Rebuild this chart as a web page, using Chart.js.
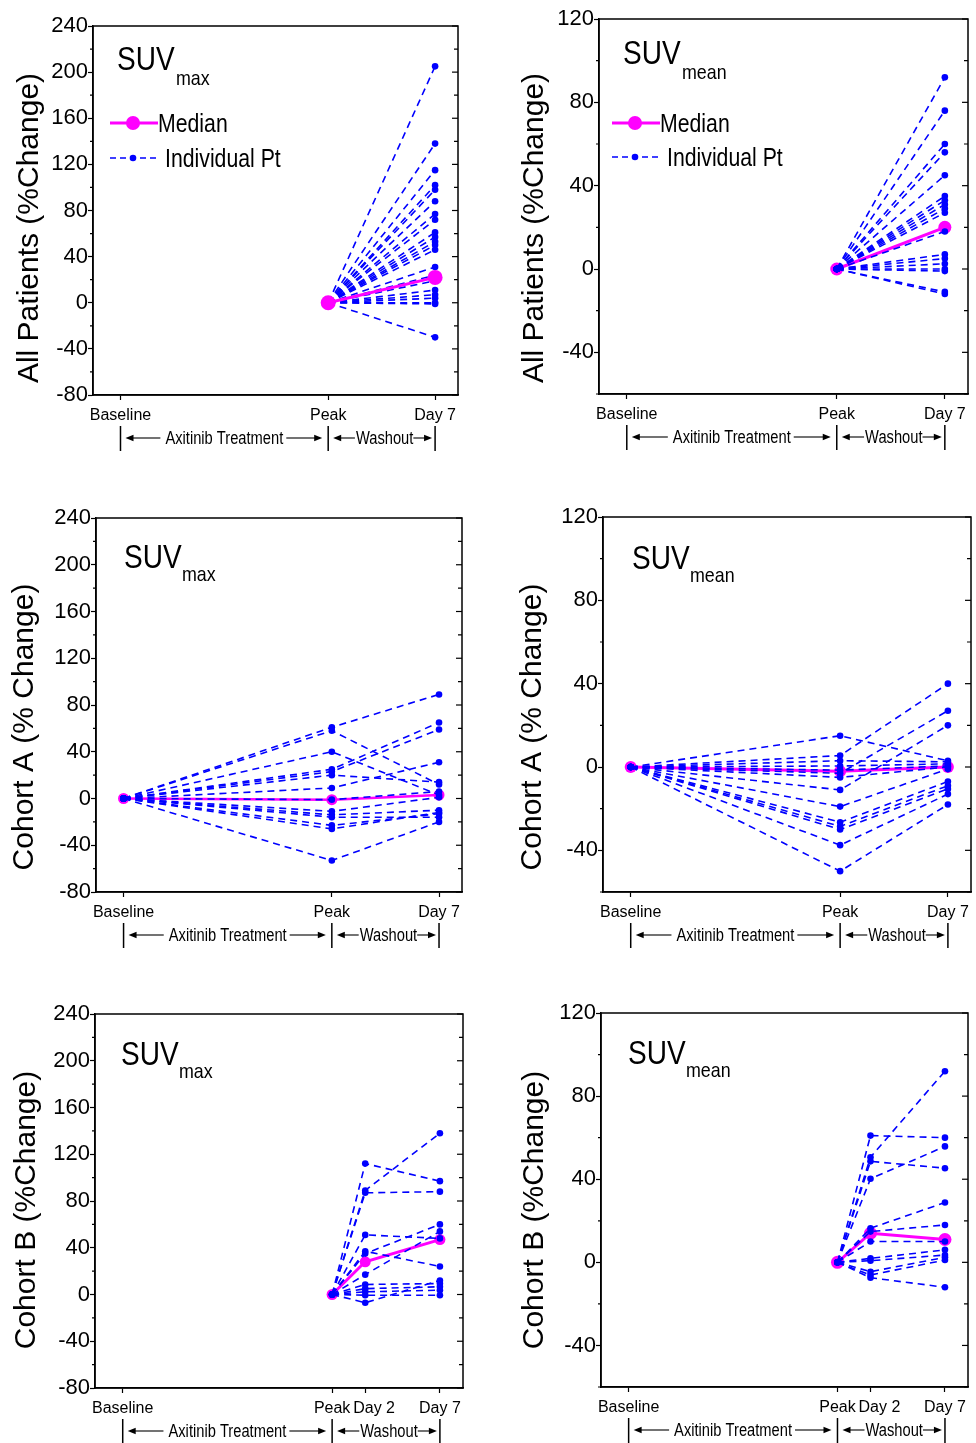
<!DOCTYPE html>
<html><head><meta charset="utf-8">
<script src="https://cdn.jsdelivr.net/npm/chart.js@4"></script>
<style>
html,body{margin:0;padding:0;background:#fff;}
#wrap{position:relative;width:976px;height:1443px;overflow:hidden;background:#fff;}
canvas{position:absolute;}
</style></head><body><div id="wrap"></div>
<script>
// ---------- data ----------
const xLabels = ['Baseline', 'Peak', 'Day 2', 'Day 7'];
const xValues = [-13.6, 0, 2.15, 7];
const reference = 0; // % change at the reference time point

// All patients (reference = Peak)
const allMaxDay7 = [205, 138, 115, 102, 98, 88, 77, 72, 61, 57, 53, 50, 46, 31, 24, 19, 11, 7, 4, 0, -1, -30];
const allMaxMedian = [0, 22];
const allMeanDay7 = [92, 76, 60, 56, 45, 35, 33, 31, 29, 27, 18, 7, 5, 2.5, 0, -1, -11, -12];
const allMeanMedian = [0, 20];

// Cohort A (reference = Baseline)
const aMaxPeak = [61, 58, 40, 25, 23, 20, 9, -1, -11, -14, -16, -23, -26, -53];
const aMaxDay7 = [89, 12, 3, 65, 59, 14, 31, 6, 1, -10, -16, -13, -12, -20];
const aMaxMedian = [0, -1, 3];
const aMeanPeak = [15, 5.5, 3, 0.5, -1.5, -3, -5, -11, -19, -26.5, -28.5, -30, -37.5, -50];
const aMeanDay7 = [3, 40, 2.5, 1.5, 0.5, 27, 0, 20, -1, -7, -9, -10.5, -13, -18];
const aMeanMedian = [0, -2, 0];

// Cohort B (reference = Peak)
const bMaxDay2 = [112, 89, 87, 51, 37, 35, 17, 8.6, 5, 2.3, -0.6, -7];
const bMaxDay7 = [97, 138, 88, 48, 24, 60, 54, 9.4, 6.6, 3.7, -0.6, 12];
const bMaxMedian = [0, 28, 47];
const bMeanDay2 = [61, 50.6, 48.6, 40.2, 16.4, 14.8, 10, 1.9, 0.8, -4.5, -6.1, -7.4];
const bMeanDay7 = [60, 92, 45.3, 55.8, 28.8, 18, 10, 6, 3.5, 2.4, 1.1, -12];
const bMeanMedian = [0, 14, 11];

const maxTicks = [-80, -40, 0, 40, 80, 120, 160, 200, 240];
const meanTicks = [-40, 0, 40, 80, 120];

// ---------- panels ----------
const panels = [
  {rect:[0,0,488,470], area:[93,26,458,395], yMin:-80, yMax:240, yTicks:maxTicks,
   yTitle:'All Patients (%Change)', titleXY:[30,228], sub:'max', suvXY:[117,70], subXY:[176,85],
   legend:{x:110, y1:123, y2:158}, medianOnTop:true, medR:7.5, medW:3,
   stages:['Peak','Day 7'], values:[null, allMaxDay7], median:allMaxMedian,
   xTicks:['Baseline','Peak','Day 7']},
  {rect:[488,0,488,470], area:[599,19,968,394], yMin:-60, yMax:120, yTicks:meanTicks,
   yTitle:'All Patients (%Change)', titleXY:[535,228], sub:'mean', suvXY:[623,64], subXY:[682,79],
   legend:{x:612, y1:123, y2:157}, medianOnTop:false, medR:6.5, medW:3,
   stages:['Peak','Day 7'], values:[null, allMeanDay7], median:allMeanMedian,
   xTicks:['Baseline','Peak','Day 7']},
  {rect:[0,470,488,495], area:[96,518,462,892], yMin:-80, yMax:240, yTicks:maxTicks,
   yTitle:'Cohort A (% Change)', titleXY:[25,727], sub:'max', suvXY:[124,568], subXY:[182,581],
   legend:null, medianOnTop:false, medR:5.5, medW:2.5,
   stages:['Baseline','Peak','Day 7'], values:[null, aMaxPeak, aMaxDay7], median:aMaxMedian,
   xTicks:['Baseline','Peak','Day 7']},
  {rect:[488,470,488,495], area:[603,517,971,892], yMin:-60, yMax:120, yTicks:meanTicks,
   yTitle:'Cohort A (% Change)', titleXY:[533,727], sub:'mean', suvXY:[632,569], subXY:[690,582],
   legend:null, medianOnTop:false, medR:6, medW:3,
   stages:['Baseline','Peak','Day 7'], values:[null, aMeanPeak, aMeanDay7], median:aMeanMedian,
   xTicks:['Baseline','Peak','Day 7']},
  {rect:[0,965,488,478], area:[95,1014,463,1388], yMin:-80, yMax:240, yTicks:maxTicks,
   yTitle:'Cohort B (%Change)', titleXY:[27,1210], sub:'max', suvXY:[121,1065], subXY:[179,1078],
   legend:null, medianOnTop:false, medR:5.5, medW:3,
   stages:['Peak','Day 2','Day 7'], values:[null, bMaxDay2, bMaxDay7], median:bMaxMedian,
   xTicks:['Baseline','Peak','Day 2','Day 7']},
  {rect:[488,965,488,478], area:[601,1013,968,1387], yMin:-60, yMax:120, yTicks:meanTicks,
   yTitle:'Cohort B (%Change)', titleXY:[535,1210], sub:'mean', suvXY:[628,1064], subXY:[686,1077],
   legend:null, medianOnTop:false, medR:6.5, medW:3,
   stages:['Peak','Day 2','Day 7'], values:[null, bMeanDay2, bMeanDay7], median:bMeanMedian,
   xTicks:['Baseline','Peak','Day 2','Day 7']}
];

const BLUE = '#0000ff', MAG = '#ff00ff';
const SANS = '"Liberation Sans", Arial, sans-serif';
const X_AXIS_H = 30;

function xOf(label){ return xValues[xLabels.indexOf(label)]; }

function txt(ctx, s, x, y, size, sx, align){
  ctx.save();
  ctx.translate(x, y);
  ctx.scale(sx, 1);
  ctx.font = size + 'px ' + SANS;
  ctx.textAlign = align || 'left';
  ctx.textBaseline = 'alphabetic';
  ctx.fillText(s, 0, 0);
  ctx.restore();
}
function txtW(ctx, s, size, sx){
  ctx.save(); ctx.font = size + 'px ' + SANS;
  const w = ctx.measureText(s).width * sx; ctx.restore(); return w;
}
function arrow(ctx, xTail, xTip, y){
  const dir = xTip > xTail ? 1 : -1;
  ctx.beginPath(); ctx.moveTo(xTail, y); ctx.lineTo(xTip - dir*6, y); ctx.stroke();
  ctx.beginPath(); ctx.moveTo(xTip, y); ctx.lineTo(xTip - dir*8, y - 3.2); ctx.lineTo(xTip - dir*8, y + 3.2); ctx.closePath(); ctx.fill();
}

function decoPlugin(p){
  return {
    id: 'deco',
    afterDraw(chart){
      const ctx = chart.ctx, a = chart.chartArea, ys = chart.scales.y, xs = chart.scales.x;
      const ox = p.rect[0], oy = p.rect[1];
      ctx.save();
      ctx.strokeStyle = '#000'; ctx.fillStyle = '#000';
      ctx.lineWidth = 1.5;
      ctx.strokeRect(a.left, a.top, a.right - a.left, a.bottom - a.top);
      ctx.lineWidth = 1.2;
      for (let v = p.yMin; v <= p.yMax; v += 20){
        const y = ys.getPixelForValue(v);
        const major = p.yTicks.includes(v);
        ctx.beginPath();
        ctx.moveTo(a.right, y); ctx.lineTo(a.right - (major ? 6 : 4), y);
        if (!major){ ctx.moveTo(a.left, y); ctx.lineTo(a.left - 3, y); }
        ctx.stroke();
      }
      // y title
      ctx.save();
      ctx.translate(p.titleXY[0] - ox, p.titleXY[1] - oy);
      ctx.rotate(-Math.PI/2);
      ctx.font = '30px ' + SANS; ctx.textAlign = 'center'; ctx.textBaseline = 'middle';
      ctx.fillText(p.yTitle, 0, 0);
      ctx.restore();
      // SUV title
      txt(ctx, 'SUV', p.suvXY[0] - ox, p.suvXY[1] - oy, 33, 0.85);
      txt(ctx, p.sub, p.subXY[0] - ox, p.subXY[1] - oy, 21, 0.85);
      // legend
      if (p.legend){
        const L = p.legend, lx = L.x - ox;
        ctx.strokeStyle = MAG; ctx.fillStyle = MAG; ctx.lineWidth = 3;
        ctx.beginPath(); ctx.moveTo(lx, L.y1 - oy); ctx.lineTo(lx + 48, L.y1 - oy); ctx.stroke();
        ctx.beginPath(); ctx.arc(lx + 23, L.y1 - oy, 7, 0, Math.PI*2); ctx.fill();
        ctx.fillStyle = '#000';
        txt(ctx, 'Median', lx + 48, L.y1 - oy + 9, 25, 0.85);
        ctx.strokeStyle = BLUE; ctx.fillStyle = BLUE; ctx.lineWidth = 1.6;
        ctx.setLineDash([6,4]);
        ctx.beginPath(); ctx.moveTo(lx, L.y2 - oy); ctx.lineTo(lx + 50, L.y2 - oy); ctx.stroke();
        ctx.setLineDash([]);
        ctx.beginPath(); ctx.arc(lx + 23, L.y2 - oy, 3.3, 0, Math.PI*2); ctx.fill();
        ctx.fillStyle = '#000';
        txt(ctx, 'Individual Pt', lx + 55, L.y2 - oy + 9, 25, 0.85);
      }
      // treatment annotation
      ctx.strokeStyle = '#000'; ctx.fillStyle = '#000'; ctx.lineWidth = 1.5;
      const xb = xs.getPixelForValue(xOf('Baseline'));
      const xp = xs.getPixelForValue(xOf('Peak'));
      const xd = xs.getPixelForValue(xOf('Day 7'));
      const yb1 = a.bottom + 31, yb2 = a.bottom + 56, ym = a.bottom + 43;
      [xb, xp, xd].forEach(x => { ctx.beginPath(); ctx.moveTo(x, yb1); ctx.lineTo(x, yb2); ctx.stroke(); });
      ctx.lineWidth = 1.1;
      const fs = 17.5, sx = 0.84;
      const t1 = 'Axitinib Treatment', w1 = txtW(ctx, t1, fs, sx), c1 = (xb + xp)/2;
      txt(ctx, t1, c1 - w1/2, ym + 6, fs, sx);
      arrow(ctx, c1 - w1/2 - 5, xb + 5, ym);
      arrow(ctx, c1 + w1/2 + 3, xp - 6, ym);
      const t2 = 'Washout', w2 = txtW(ctx, t2, fs, sx), c2 = (xp + xd)/2 + 3;
      txt(ctx, t2, c2 - w2/2, ym + 6, fs, sx);
      arrow(ctx, c2 - w2/2 - 1, xp + 5, ym);
      arrow(ctx, c2 + w2/2, xd - 3, ym);
      ctx.restore();
    }
  };
}

function buildDatasets(p){
  const xs = p.stages.map(xOf);
  const n = p.values[p.values.length - 1].length;
  const ds = [];
  for (let i = 0; i < n; i++){
    ds.push({
      data: xs.map((x, k) => ({x: x, y: p.values[k] === null ? reference : p.values[k][i]})),
      borderColor: BLUE, backgroundColor: BLUE, borderWidth: 1.6, borderDash: [7,5],
      pointRadius: 3.3, pointHoverRadius: 3.3, pointBackgroundColor: BLUE, pointBorderWidth: 0,
      tension: 0, fill: false, order: 1
    });
  }
  ds.push({
    data: xs.map((x, k) => ({x: x, y: p.median[k]})),
    borderColor: MAG, backgroundColor: MAG, borderWidth: p.medW,
    pointRadius: p.medR, pointHoverRadius: p.medR, pointBackgroundColor: MAG, pointBorderWidth: 0,
    tension: 0, fill: false, order: p.medianOnTop ? 0 : 2
  });
  return ds;
}

const wrap = document.getElementById('wrap');
panels.forEach(p => {
  const [cx, cy, cw, ch] = p.rect;
  const cv = document.createElement('canvas');
  cv.width = cw; cv.height = ch;
  cv.style.left = cx + 'px'; cv.style.top = cy + 'px';
  cv.style.width = cw + 'px'; cv.style.height = ch + 'px';
  wrap.appendChild(cv);
  const aL = p.area[0] - cx, aT = p.area[1] - cy, aR = p.area[2] - cx, aB = p.area[3] - cy;
  new Chart(cv, {
    type: 'line',
    data: { datasets: buildDatasets(p) },
    options: {
      responsive: false, animation: false, devicePixelRatio: 1,
      events: [],
      layout: { autoPadding: false, padding: {left: 0, top: aT, right: cw - aR, bottom: ch - aB - X_AXIS_H} },
      plugins: { legend: {display: false}, tooltip: {enabled: false} },
      scales: {
        x: {
          type: 'linear', min: -15.4, max: 8.5,
          afterBuildTicks: s => { s.ticks = p.xTicks.map(l => ({value: xOf(l)})); },
          afterFit: s => { s.height = X_AXIS_H; },
          ticks: { autoSkip: false, maxRotation: 0, minRotation: 0, padding: 6, color: '#000',
                   font: {family: SANS, size: 16},
                   callback: v => {
                     const l = xLabels[xValues.indexOf(v)];
                     return l === 'Day 2' ? '    ' + l : l;
                   } },
          grid: { drawOnChartArea: false, drawTicks: true, tickLength: 5, tickColor: '#000', tickWidth: 1.2 },
          border: { display: true, color: '#000', width: 1.5 }
        },
        y: {
          min: p.yMin, max: p.yMax,
          afterBuildTicks: s => { s.ticks = p.yTicks.map(v => ({value: v})); },
          afterFit: s => { s.width = aL; },
          ticks: { padding: 0, color: '#000', font: {family: SANS, size: 22} },
          grid: { drawOnChartArea: false, drawTicks: true, tickLength: 5, tickColor: '#000', tickWidth: 1.2 },
          border: { display: true, color: '#000', width: 1.5 }
        }
      }
    },
    plugins: [decoPlugin(p)]
  });
});
</script>
</body></html>
